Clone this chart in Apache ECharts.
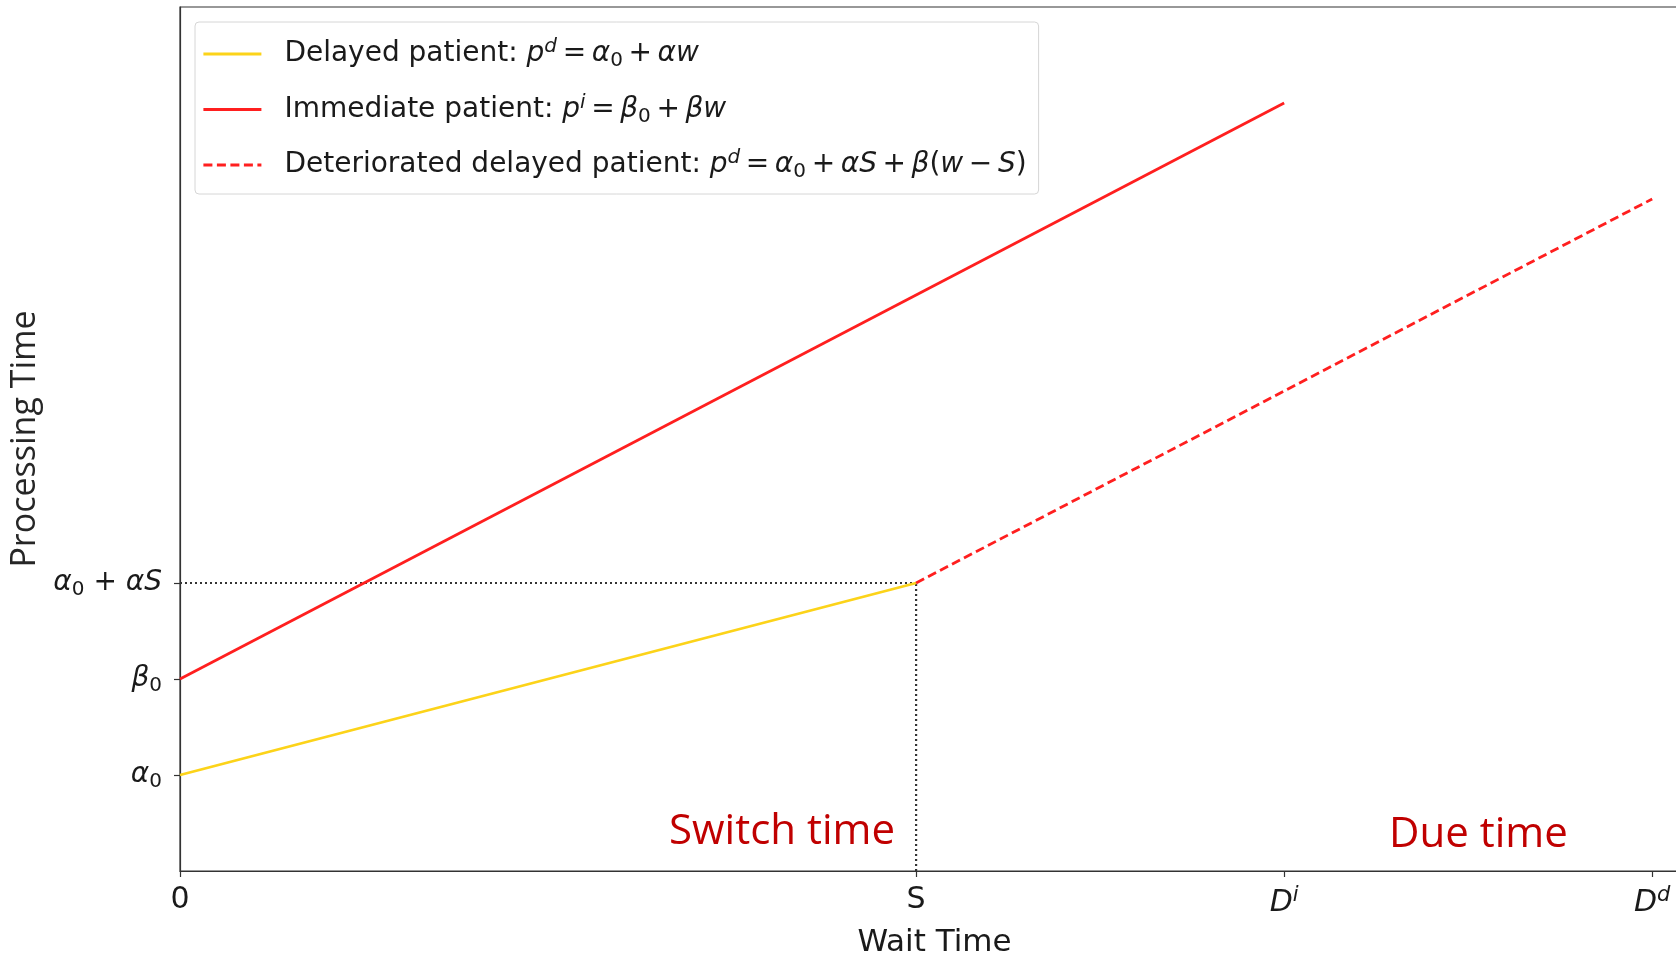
<!DOCTYPE html>
<html>
<head>
<meta charset="utf-8">
<script src="https://cdn.jsdelivr.net/npm/echarts@6/dist/echarts.min.js"></script>
<style>
html,body{margin:0;padding:0;background:#fff;}
#chart{width:1676px;height:957px;}
</style>
</head>
<body>
<div id="chart"></div>
<script>
// ---- data ----
const xTickValues = [0, 2, 3, 4];
const xTickLabels = ['0', 'S', '{i|D}{sup|i}', '{i|D}{sup|d}'];
const yTickValues = [1, 2, 3];
const yTickLabels = ['{i|α}{sub|0}', '{i|β}{sub|0}', '{i|α}{sub|0}{t| + }{i|αS}'];
const seriesNames = ['Delayed patient', 'Immediate patient', 'Deteriorated delayed patient'];
const legendLabels = [
  '{h|Delayed patient: }{i|p}{sup|d}{t|\u2009=\u2009}{i|α}{sub|0}{t|\u2009+\u2009}{i|αw}',
  '{h|Immediate patient: }{i|p}{sup|i}{t|\u2009=\u2009}{i|β}{sub|0}{t|\u2009+\u2009}{i|βw}',
  '{h|Deteriorated delayed patient: }{i|p}{sup|d}{t|\u2009=\u2009}{i|α}{sub|0}{t|\u2009+\u2009}{i|αS}{t|\u2009+\u2009}{i|β}{t|(}{i|w}{t|\u2009−\u2009}{i|S}{t|)}'
];
const delayedLine = [[0, 1], [2, 3]];
const immediateLine = [[0, 2], [3, 8]];
const deterioratedLine = [[2, 3], [4, 7]];
const guideHorizontal = [[0, 3], [2, 3]];
const guideVertical = [[2, 0], [2, 3]];
const annotations = ['Switch time', 'Due time'];

const chart = echarts.init(document.getElementById('chart'), null, {renderer: 'canvas'});

const mathRich = function (size, lh) {
  return {
    t: {fontFamily: 'DejaVu Sans', fontSize: size, color: '#1a1a1a', lineHeight: lh},
    h: {fontFamily: 'DejaVu Sans', fontSize: size, color: '#1a1a1a', lineHeight: lh},
    i: {fontFamily: 'DejaVu Sans', fontStyle: 'italic', fontSize: size, color: '#1a1a1a', lineHeight: lh},
    sup: {fontFamily: 'DejaVu Sans', fontStyle: 'italic', fontSize: Math.round(size * 0.7), color: '#1a1a1a', verticalAlign: 'top', lineHeight: Math.round(size * 0.72)},
    sub: {fontFamily: 'DejaVu Sans', fontSize: Math.round(size * 0.72), color: '#1a1a1a', verticalAlign: 'bottom', lineHeight: Math.round(size * 0.7)}
  };
};

const legendRich = mathRich(28, 34);
legendRich.h.padding = [0, 0, 0, 18];

const option = {
  animation: false,
  backgroundColor: '#ffffff',
  grid: {
    left: 180, top: 7, right: -13, bottom: 86,
    outerBoundsMode: 'none', containLabel: false,
    show: true, borderColor: '#333', borderWidth: 1.2, backgroundColor: 'transparent'
  },
  legend: {
    left: 195, top: 22, orient: 'vertical',
    data: seriesNames,
    selectedMode: false,
    itemWidth: 58, itemHeight: 20, itemGap: 21.5,
    padding: [15, 12, 12, 7],
    borderColor: '#d6d6d6', borderWidth: 1, borderRadius: 4,
    backgroundColor: 'rgba(255,255,255,0.8)',
    itemStyle: {opacity: 0},
    lineStyle: {width: 2.8},
    formatter: function (name) { return legendLabels[seriesNames.indexOf(name)]; },
    textStyle: {rich: legendRich}
  },
  xAxis: {
    type: 'value', min: 0, max: 4.1,
    name: 'Wait Time', nameLocation: 'middle', nameGap: 56,
    nameTextStyle: {fontFamily: 'DejaVu Sans', fontSize: 31, color: '#1a1a1a'},
    axisLine: {show: true, lineStyle: {color: '#333', width: 1.2}},
    axisTick: {show: true, customValues: xTickValues, length: 6, lineStyle: {color: '#333', width: 1.2}},
    axisLabel: {
      customValues: xTickValues, margin: 14,
      formatter: function (v) { const k = xTickValues.indexOf(v); return k >= 0 ? xTickLabels[k] : ''; },
      fontFamily: 'DejaVu Sans', fontSize: 30, color: '#1a1a1a',
      rich: mathRich(30, 36)
    },
    splitLine: {show: false}
  },
  yAxis: {
    type: 'value', min: 0, max: 9,
    name: 'Processing Time', nameLocation: 'middle', nameGap: 134,
    nameTextStyle: {fontFamily: 'Open Sans', fontSize: 34, color: '#262626'},
    axisLine: {show: true, lineStyle: {color: '#333', width: 1.2}},
    axisTick: {show: true, customValues: yTickValues, length: 6, lineStyle: {color: '#333', width: 1.2}},
    axisLabel: {
      customValues: yTickValues, margin: 18,
      formatter: function (v) { const k = yTickValues.indexOf(v); return k >= 0 ? yTickLabels[k] : ''; },
      fontFamily: 'DejaVu Sans', fontSize: 28, color: '#1a1a1a',
      rich: mathRich(28, 34)
    },
    splitLine: {show: false}
  },
  series: [
    {
      name: 'guideH', type: 'line', data: guideHorizontal, symbol: 'none', silent: true,
      lineStyle: {color: '#333', width: 2.2, type: [2, 3]}, z: 1
    },
    {
      name: 'guideV', type: 'line', data: guideVertical, symbol: 'none', silent: true,
      lineStyle: {color: '#333', width: 2.2, type: [2, 3]}, z: 1
    },
    {
      name: seriesNames[0], type: 'line', data: delayedLine, symbol: 'none',
      lineStyle: {color: '#fcd319', width: 2.8}, itemStyle: {color: '#fcd319'}, z: 3
    },
    {
      name: seriesNames[1], type: 'line', data: immediateLine, symbol: 'none',
      lineStyle: {color: '#ff1f1f', width: 2.8}, itemStyle: {color: '#ff1f1f'}, z: 3
    },
    {
      name: seriesNames[2], type: 'line', data: deterioratedLine, symbol: 'none',
      lineStyle: {color: '#ff1f1f', width: 2.8, type: [9, 4.5]}, itemStyle: {color: '#ff1f1f'}, z: 3
    }
  ],
  graphic: [
    {
      type: 'text', left: 669, top: 811,
      style: {text: annotations[0], font: '42px "Open Sans"', fill: '#c00000'}
    },
    {
      type: 'text', left: 1389, top: 814,
      style: {text: annotations[1], font: '42px "Open Sans"', fill: '#c00000'}
    }
  ]
};
chart.setOption(option);
</script>
</body>
</html>
